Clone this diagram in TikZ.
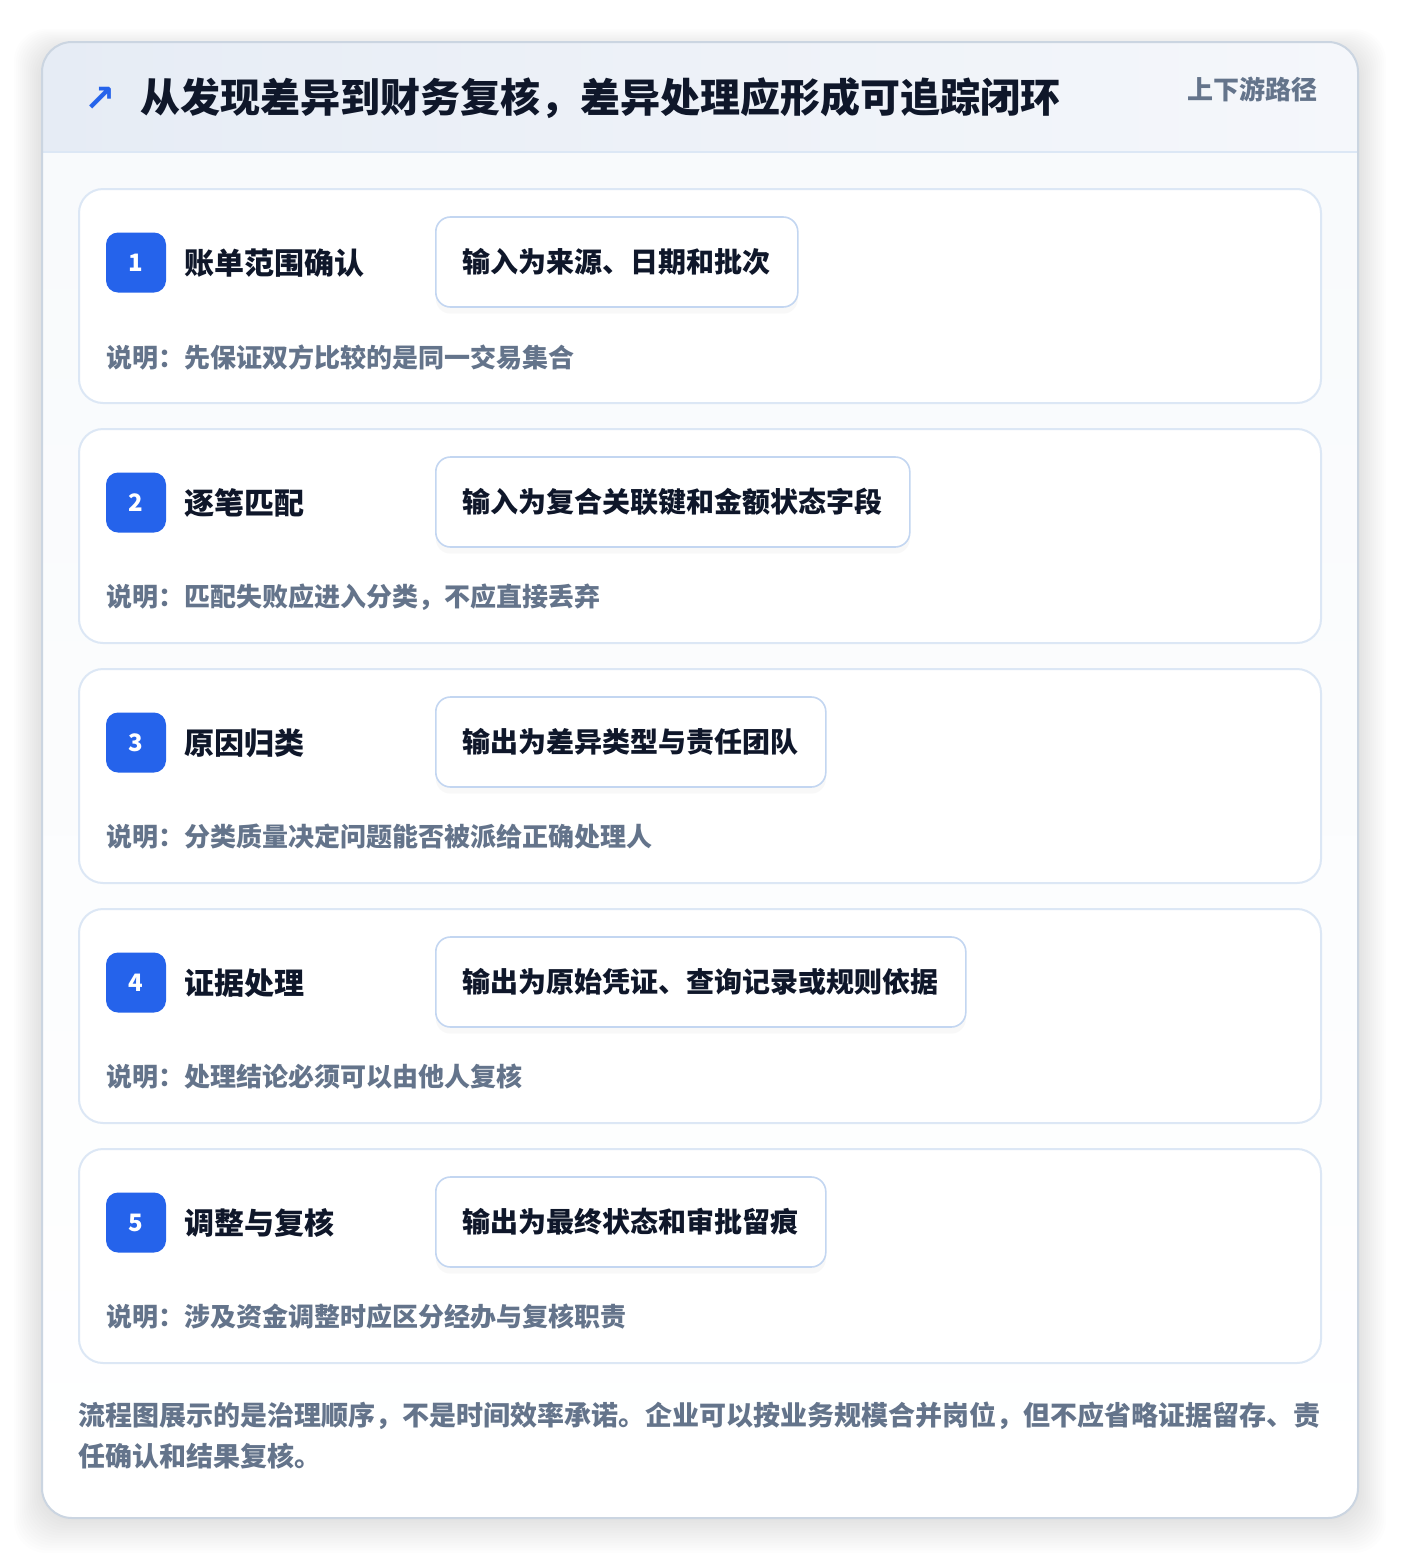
\documentclass[tikz,border=0pt]{standalone}
\usepackage{fontspec}
\setmainfont{Noto Sans CJK SC}
\newfontfamily\dejavu{DejaVu Sans}
\usetikzlibrary{shadows}
\definecolor{bluebadge}{HTML}{2563EB}
\definecolor{titlecol}{HTML}{0F172A}
\definecolor{graytext}{HTML}{64748B}
\definecolor{cardline}{HTML}{DCE7F5}
\definecolor{boxline}{HTML}{C3D6F1}
\definecolor{outerline}{HTML}{CBD5E1}
\definecolor{hdrleft}{HTML}{E6ECF5}
\definecolor{hdrright}{HTML}{F5F7FB}
\definecolor{bodyfill}{HTML}{F8FAFC}
\tikzset{
  card/.style={draw=cardline, line width=1.5pt, fill=white, rounded corners=18pt},
  badge/.style={fill=bluebadge, text=white, rounded corners=9pt, minimum width=45pt, minimum height=45pt, inner sep=0pt, font=\fontsize{18pt}{20pt}\selectfont\bfseries},
  steptitle/.style={anchor=west, inner sep=0pt, text=titlecol, font=\fontsize{22.5pt}{24pt}\selectfont\bfseries},
  iobox/.style={anchor=west, draw=boxline, line width=1.2pt, fill=white, rounded corners=11pt, inner xsep=20.25pt, inner ysep=0pt, minimum height=67.5pt, text=titlecol, font=\fontsize{21pt}{24pt}\selectfont\bfseries, drop shadow={opacity=0.05, shadow xshift=0pt, shadow yshift=-5pt}},
  notetext/.style={anchor=west, inner sep=0pt, text=graytext, font=\fontsize{19.5pt}{22pt}\selectfont\bfseries},
}
\begin{document}
\begin{tikzpicture}[x=0.75pt,y=-0.75pt]
\useasboundingbox (0,0) rectangle (1400,1560);
\fill[white] (0,0) rectangle (1400,1560);
% outer shadow
\foreach \k in {1,...,14}{
  \fill[black, opacity=0.006, rounded corners=24pt] (42-2*\k,42-1.5*\k+8) rectangle (1358+2*\k,1518+2.5*\k);
}
% outer card
\fill[white, rounded corners=22.5pt] (42,42) rectangle (1358,1518);
\begin{scope}
  \clip[rounded corners=22.5pt] (42,42) rectangle (1358,1518);
  \shade[left color=hdrleft, right color=hdrright] (42,42) rectangle (1358,152);
  \shade[top color=bodyfill, bottom color=white] (42,152) rectangle (1358,1518);
\end{scope}
\draw[cardline, line width=1.5pt] (42,152) -- (1358,152);
\draw[outerline, line width=1.5pt, rounded corners=22.5pt] (42,42) rectangle (1358,1518);
% header
\node[anchor=west, inner sep=0pt, text=bluebadge, font=\dejavu\bfseries\fontsize{28pt}{30pt}\selectfont] (arrow) at (84,99) {↗};
\node[anchor=west, inner sep=0pt, text=titlecol, font=\fontsize{30pt}{34pt}\selectfont\bfseries] (title) at (140,98) {从发现差异到财务复核，差异处理应形成可追踪闭环};
\node[anchor=east, inner sep=0pt, text=graytext, font=\fontsize{19.5pt}{22pt}\selectfont\bfseries] (route) at (1318,89) {上下游路径};
% steps
\foreach \n/\t/\b/\s [count=\i from 0] in {
  1/账单范围确认/输入为来源、日期和批次/先保证双方比较的是同一交易集合,
  2/逐笔匹配/输入为复合关联键和金额状态字段/匹配失败应进入分类，不应直接丢弃,
  3/原因归类/输出为差异类型与责任团队/分类质量决定问题能否被派给正确处理人,
  4/证据处理/输出为原始凭证、查询记录或规则依据/处理结论必须可以由他人复核,
  5/调整与复核/输出为最终状态和审批留痕/涉及资金调整时应区分经办与复核职责}{
  \pgfmathsetmacro\top{189+240*\i}
  \draw[card] (79,\top) rectangle (1321,\top+214);
  \node[badge] (b\n) at (136,\top+73.5) {\n};
  \node[steptitle] (t\n) at (184,\top+74) {\t};
  \node[iobox] (x\n) at (435,\top+73) {\b};
  \node[notetext] (n\n) at (106,\top+168) {说明：\s};
}
% footer
\node[anchor=base west, inner sep=0pt, align=left, text=graytext, font=\fontsize{20.25pt}{30.75pt}\selectfont\bfseries] (foot) at (78,1466) {流程图展示的是治理顺序，不是时间效率承诺。企业可以按业务规模合并岗位，但不应省略证据留存、责\\任确认和结果复核。};
\end{tikzpicture}
\end{document}
